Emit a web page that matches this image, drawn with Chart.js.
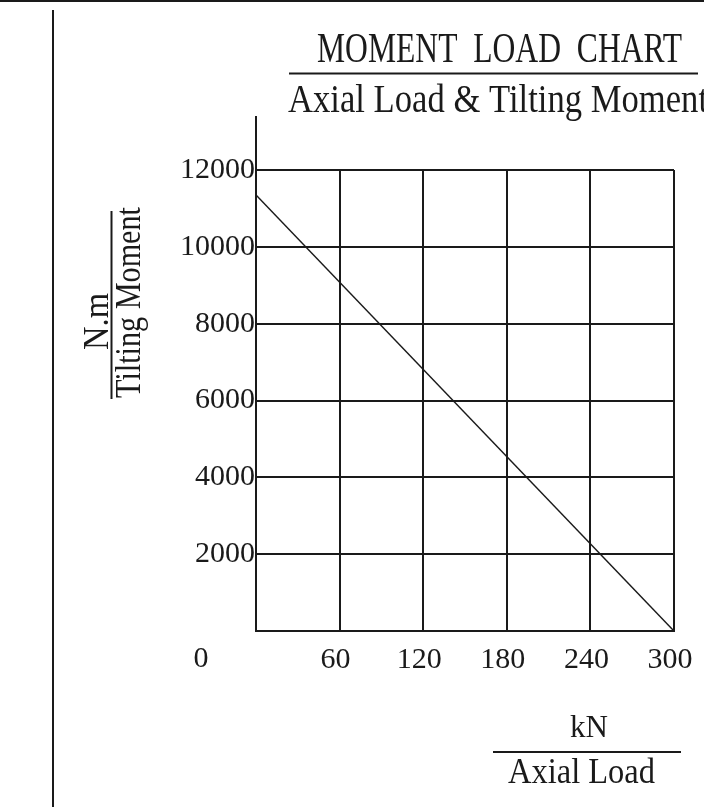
<!DOCTYPE html>
<html>
<head>
<meta charset="utf-8">
<script src="https://cdn.jsdelivr.net/npm/chart.js@4.4.1/dist/chart.umd.min.js"></script>
<style>
  html, body { margin: 0; padding: 0; background: #ffffff; }
  #wrap { position: relative; width: 704px; height: 807px; }
  canvas { display: block; }
</style>
</head>
<body>
<div id="wrap"><canvas id="c" width="704" height="807"></canvas></div>
<script>
// ---- data ----
const axialLoadKN = [0, 300];            // x values (kN)
const tiltingMomentNm = [11350, 0];      // y values (N.m)
const xTickValues = [0, 60, 120, 180, 240, 300];
const yTickValues = [0, 2000, 4000, 6000, 8000, 10000, 12000];
const titleLine1 = 'MOMENT  LOAD  CHART';
const titleLine2 = 'Axial Load & Tilting Moment';
const yUnit = 'N.m';
const yName = 'Tilting Moment';
const xUnit = 'kN';
const xName = 'Axial Load';

const FONT = '"Liberation Serif", "Times New Roman", serif';
const INK = '#1a1a1a';

function fitText(ctx, text, left, baseline, size, width, rotate) {
  ctx.save();
  ctx.font = size + 'px ' + FONT;
  const w = ctx.measureText(text).width;
  ctx.translate(left, baseline);
  if (rotate) ctx.rotate(-Math.PI / 2);
  ctx.scale(width / w, 1);
  ctx.textAlign = 'left';
  ctx.textBaseline = 'alphabetic';
  ctx.fillStyle = INK;
  ctx.fillText(text, 0, 0);
  ctx.restore();
}
function rule(ctx, x1, y1, x2, y2, w) {
  ctx.save();
  ctx.strokeStyle = INK;
  ctx.lineWidth = w;
  ctx.beginPath();
  ctx.moveTo(x1, y1);
  ctx.lineTo(x2, y2);
  ctx.stroke();
  ctx.restore();
}

const decor = {
  id: 'decor',
  afterDraw(chart) {
    const ctx = chart.ctx;
    const xs = chart.scales.x, ys = chart.scales.y;
    // page frame
    ctx.save(); ctx.fillStyle = INK; ctx.fillRect(0, 0, 704, 2); ctx.restore();
    rule(ctx, 53, 10, 53, 807, 2);
    // title block
    fitText(ctx, titleLine1, 317, 62, 42, 365);
    rule(ctx, 289, 73.5, 698, 73.5, 2);
    fitText(ctx, titleLine2, 288, 112, 40, 420);
    // y axis extension above the grid
    const x0 = xs.getPixelForValue(xTickValues[0]);
    rule(ctx, x0, 116, x0, ys.getPixelForValue(yTickValues[yTickValues.length - 1]), 2);
    // y axis title
    fitText(ctx, yUnit, 108, 350, 35, 57, true);
    rule(ctx, 111.5, 211, 111.5, 399, 2);
    fitText(ctx, yName, 140, 398, 35, 191, true);
    // x axis title
    fitText(ctx, xUnit, 570, 737, 32, 38);
    rule(ctx, 493, 752, 681, 752, 2);
    fitText(ctx, xName, 508, 783, 35, 147);
    // shared origin label
    ctx.save();
    ctx.font = '30px ' + FONT;
    ctx.fillStyle = INK;
    ctx.textAlign = 'center';
    ctx.textBaseline = 'alphabetic';
    ctx.fillText(String(xTickValues[0]), x0 - 55, 667);
    ctx.restore();
  }
};

new Chart(document.getElementById('c'), {
  type: 'line',
  data: {
    datasets: [{
      data: axialLoadKN.map((x, i) => ({ x: x, y: tiltingMomentNm[i] })),
      borderColor: INK,
      borderWidth: 1.5,
      pointRadius: 0,
      tension: 0,
      fill: false
    }]
  },
  options: {
    responsive: false,
    animation: false,
    devicePixelRatio: 1,
    layout: { padding: { left: 0, top: 170, right: 30, bottom: 0 } },
    plugins: { legend: { display: false }, tooltip: { enabled: false }, title: { display: false } },
    scales: {
      x: {
        type: 'linear',
        min: xTickValues[0],
        max: xTickValues[xTickValues.length - 1],
        afterBuildTicks: (s) => { s.ticks = xTickValues.map(v => ({ value: v })); },
        afterFit: (s) => { s.height = 176; s.paddingLeft = 0; s.paddingRight = 0; },
        grid: { color: INK, lineWidth: 2, drawTicks: false },
        border: { color: INK, width: 2 },
        ticks: {
          color: INK,
          font: { family: FONT, size: 30 },
          padding: 11,
          labelOffset: -4,
          maxRotation: 0,
          autoSkip: false,
          callback: (v) => (v === xTickValues[0] ? '' : String(v))
        }
      },
      y: {
        type: 'linear',
        min: yTickValues[0],
        max: yTickValues[yTickValues.length - 1],
        afterBuildTicks: (s) => { s.ticks = yTickValues.map(v => ({ value: v })); },
        afterFit: (s) => { s.width = 256; s.paddingTop = 0; s.paddingBottom = 0; },
        grid: { color: INK, lineWidth: 2, drawTicks: false },
        border: { color: INK, width: 2 },
        ticks: {
          color: INK,
          font: { family: FONT, size: 30 },
          padding: 1,
          autoSkip: false,
          callback: (v) => (v === yTickValues[0] ? '' : String(v))
        }
      }
    }
  },
  plugins: [decor]
});
</script>
</body>
</html>
